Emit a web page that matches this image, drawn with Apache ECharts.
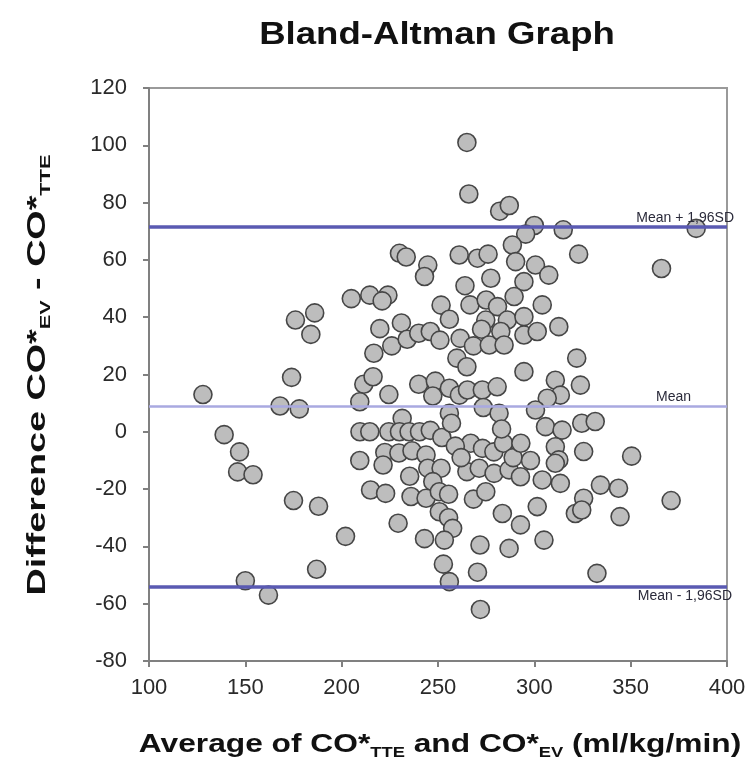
<!DOCTYPE html>
<html>
<head>
<meta charset="utf-8">
<script src="https://cdn.jsdelivr.net/npm/echarts@6/dist/echarts.min.js"></script>
<style>
  html, body { margin: 0; padding: 0; background: #ffffff; }
  #chart { width: 756px; height: 776px; }
</style>
</head>
<body>
<div id="chart"></div>
<script>
// Mean of the two cardiac-output methods (ml/kg/min)
const averages = [
  128, 139, 147, 146, 154, 150, 162, 175, 188, 202, 187, 168, 178, 174, 176, 186, 184,
  265, 266, 282, 287, 300, 295.5, 315, 384, 323, 366, 371, 350.5, 344.5, 343.7, 334.3, 332.5, 272,
  230, 233.5, 244.7, 243, 261, 270.5, 276, 288.6, 290.3, 300.6, 307.5, 294.6, 277.4, 264,
  205, 214.6, 224, 221, 251.6, 266.6, 275, 289.5, 304.1, 280.9, 255.9, 274.8, 286, 294.6, 312.7,
  219.8, 231, 226, 234, 240, 246, 251, 216.7, 261.5, 268.4, 272.6, 276.6, 282.6, 284.3, 294.6, 301.5,
  259.8, 265, 294.6, 322, 323.9, 310.9, 313.5, 306.7, 300.6,
  211.5, 216.3, 209.4, 224.5, 240, 248.6, 247.3, 255.9, 261.1, 265.3, 273, 280.7, 255.9, 273.5, 281.7, 231.4,
  209.5, 214.6, 224.5, 230, 235, 240.4, 246,
  324.6, 331.6, 305.8, 314.4, 310.9, 325.6, 312.7,
  209.4, 222.4, 229.7, 236.5, 243.8, 221.5, 235.3, 244.7, 251.6, 265, 271.4, 267, 273.1, 247.3,
  215, 222.8, 236, 243.8, 250.7, 255.5, 268.4, 250.7, 255.5, 257.6, 229.3, 243, 253.3, 271.8,
  252.8, 270.5, 255.9, 279.1, 286.9, 274.8, 283.4, 292.8, 286.9, 305, 301.5, 292.8, 304.1, 313.5,
  310.9, 325.6, 321.3, 324.6,
  252, 259, 262, 279, 284, 289, 293, 298, 257, 283
];

// Difference between the two methods (CO*EV - CO*TTE)
const differences = [
  13, -1, -7, -14, -15, -52, -57, -24, -26, -36.5, -48, 9, 8, 19, 39, 41.5, 34,
  101, 83, 77, 79, 72, 69, 70.5, 71, 62, 57, -24, -8.5, -29.6, -19.7, -18.6, -49.4, -62,
  62.3, 61, 58.2, 54.2, 61.7, 60.6, 62, 65.2, 59.4, 58.2, 54.7, 52.4, 53.6, 51,
  46.5, 47.7, 47.7, 45.7, 44.2, 44.3, 46, 47.2, 44.3, 43.7, 39.3, 39, 39, 40.2, 36.7,
  36, 38, 30, 32.3, 34.4, 35, 32, 27.4, 32.6, 30, 35.8, 30.3, 35, 30.3, 33.8, 35,
  25.7, 22.7, 21, 25.7, 16.3, 18, 12.8, 11.7, 7.6,
  16.6, 19.2, 10.5, 13, 16.6, 17.7, 12.5, 15.2, 12.8, 14.6, 14.6, 15.7, 6.5, 8.5, 6.5, 4.7,
  0, 0, 0, 0, 0, 0, 0.5,
  3, 3.6, 1.8, 0.6, -5.2, -6.9, -9.8,
  -10, -7.2, -7.4, -6.6, -8.1, -11.6, -15.5, -12.7, -12.7, -13.9, -12.7, -4, -5.8, -17.4,
  -20.3, -21.5, -22.6, -23.2, -20.9, -21.8, -23.5, -27.9, -30, -33.7, -31.9, -37.3, -37.8, -39.5,
  -46.2, -49, -52.3, -14.5, -13.3, -20.9, -28.5, -32.5, -40.7, -37.8, -26.1, -15.7, -16.8, -18,
  -11, -23.2, -28.5, -27.3,
  -2, -5, -9, -7, -4, -9, -4, -10, 3, 1
];

// Bias and limits of agreement
const meanDiff = 8.8;
const upperLimit = 71.6;
const lowerLimit = -54.1;
const limitLabels = ['Mean + 1,96SD', 'Mean', 'Mean - 1,96SD'];

// Axis ranges and steps
const xRange = [100, 400];
const xStep = 50;
const yRange = [-80, 120];
const yStep = 20;

const points = averages.map((a, i) => [a, differences[i]]);

const chart = echarts.init(document.getElementById('chart'), null, { renderer: 'canvas' });

const axisGray = '#808080';
const sansFamily = 'Liberation Sans, Arial, sans-serif';
const tickFont = { fontFamily: sansFamily, fontSize: 22, color: '#2a2a2a' };
const subStyle = {
  fontFamily: sansFamily, fontWeight: 'bold', fontSize: 15,
  fill: '#111111', lineHeight: 30, verticalAlign: 'bottom', padding: [10, 0, 0, 0]
};

chart.setOption({
  animation: false,
  backgroundColor: '#ffffff',
  grid: {
    left: 149, right: 29, top: 88, bottom: 115,
    show: true, borderColor: '#9a9a9a', borderWidth: 2
  },
  xAxis: {
    type: 'value',
    min: xRange[0], max: xRange[1], interval: xStep,
    axisLine: { show: true, onZero: false, lineStyle: { color: axisGray, width: 2 } },
    axisTick: { show: true, length: 6, lineStyle: { color: axisGray, width: 2 } },
    axisLabel: Object.assign({ margin: 16 }, tickFont),
    splitLine: { show: false }
  },
  yAxis: {
    type: 'value',
    min: yRange[0], max: yRange[1], interval: yStep,
    axisLine: { show: true, onZero: false, lineStyle: { color: axisGray, width: 2 } },
    axisTick: { show: true, length: 6, lineStyle: { color: axisGray, width: 2 } },
    axisLabel: Object.assign({ margin: 22 }, tickFont),
    splitLine: { show: false }
  },
  graphic: [
    {
      type: 'text', x: 437, y: 35, scaleX: 1.18,
      style: {
        text: 'Bland-Altman Graph',
        fontFamily: sansFamily, fontWeight: 'bold', fontSize: 31,
        fill: '#111111', align: 'center', verticalAlign: 'middle'
      }
    },
    {
      type: 'text', x: 440, y: 745, scaleX: 1.22,
      style: {
        text: 'Average of CO*{sub|TTE} and CO*{sub|EV} (ml/kg/min)',
        fontFamily: sansFamily, fontWeight: 'bold', fontSize: 26,
        fill: '#111111', align: 'center', verticalAlign: 'middle', lineHeight: 30,
        rich: { sub: subStyle }
      }
    },
    {
      type: 'text', x: 38, y: 375, rotation: Math.PI / 2, scaleX: 1.45,
      style: {
        text: 'Difference CO*{sub|EV} - CO*{sub|TTE}',
        fontFamily: sansFamily, fontWeight: 'bold', fontSize: 26,
        fill: '#111111', align: 'center', verticalAlign: 'middle', lineHeight: 30,
        rich: { sub: subStyle }
      }
    }
  ],
  series: [
    {
      type: 'scatter',
      data: points,
      symbol: 'circle',
      symbolSize: 18,
      z: 2,
      itemStyle: { color: '#bdbdbd', borderColor: '#464646', borderWidth: 1.6, opacity: 1 },
      silent: true
    },
    {
      // reference lines drawn above the points
      type: 'scatter',
      data: [],
      z: 3,
      markLine: {
        silent: true,
        symbol: 'none',
        animation: false,
        label: {
          show: true,
          fontFamily: sansFamily,
          fontSize: 14,
          color: '#2a2a3a'
        },
        data: [
          {
            yAxis: upperLimit,
            lineStyle: { color: '#5a5ab2', width: 3.5, type: 'solid' },
            label: { formatter: limitLabels[0], position: 'insideEndTop', distance: [-7, 2] }
          },
          {
            yAxis: meanDiff,
            lineStyle: { color: '#a9a9e0', width: 2.5, type: 'solid' },
            label: { formatter: limitLabels[1], position: 'insideEndTop', distance: [36, 2] }
          },
          {
            yAxis: lowerLimit,
            lineStyle: { color: '#5a5ab2', width: 3.5, type: 'solid' },
            label: { formatter: limitLabels[2], position: 'insideEndBottom', distance: [-5, 2] }
          }
        ]
      }
    }
  ]
});
</script>
</body>
</html>
